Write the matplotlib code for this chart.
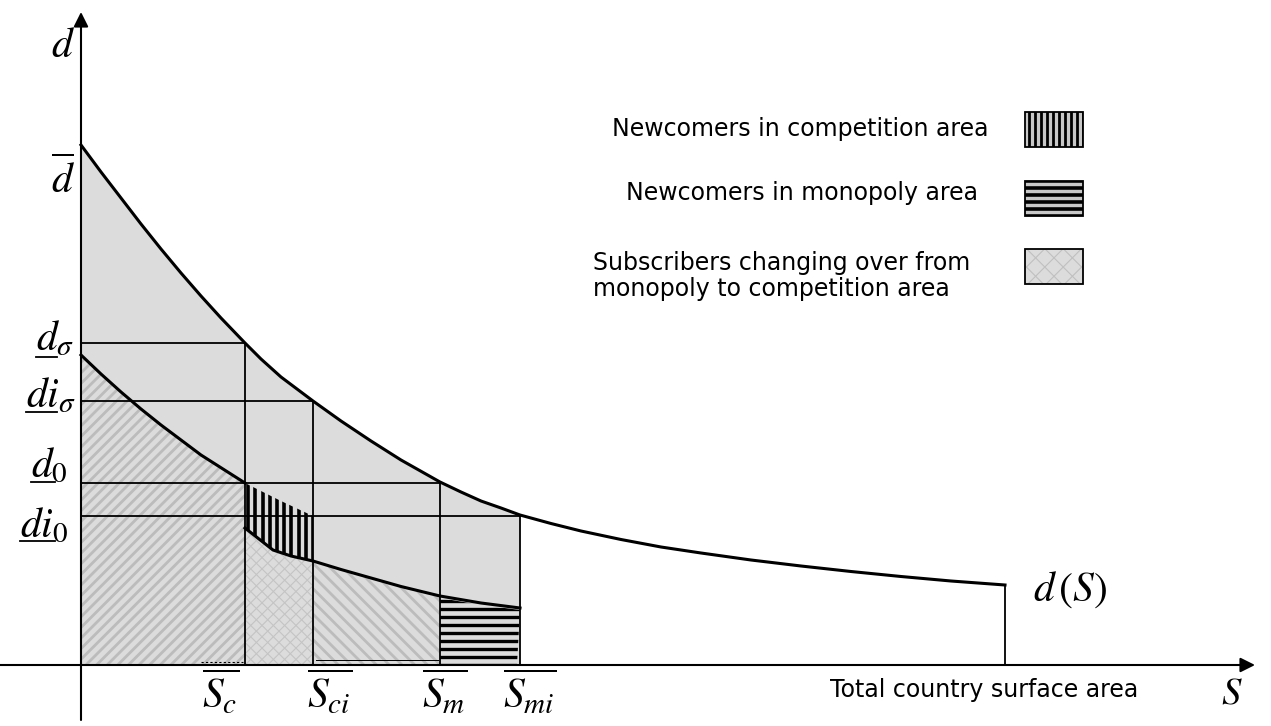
import numpy as np
import matplotlib
matplotlib.use("Agg")
import matplotlib.pyplot as plt
from matplotlib.patches import Polygon, Rectangle
from matplotlib.collections import LineCollection

plt.rcParams['mathtext.fontset'] = 'stix'

# ---- data -------------------------------------------------------------
# surface thresholds (S axis)
S_c, S_ci, S_m, S_mi, S_total = 1.64, 2.32, 3.59, 4.39, 9.24
# density thresholds (d axis)
d_sigma, di_sigma, d_0, di_0 = 3.22, 2.64, 1.82, 1.49

# density curve d(S)
upper_S = [0.00, 0.20, 0.40, 0.60, 0.80, 1.00, 1.20, 1.40, 1.64, 1.80,
           2.00, 2.16, 2.32, 2.60, 2.90, 3.20, 3.59, 3.80, 4.00, 4.20,
           4.39, 4.70, 5.00, 5.40, 5.80, 6.20, 6.70, 7.20, 7.70, 8.20,
           8.70, 9.24]
upper_d = [5.20, 4.93, 4.67, 4.41, 4.16, 3.92, 3.69, 3.47, 3.22, 3.06,
           2.88, 2.76, 2.64, 2.44, 2.24, 2.05, 1.83, 1.73, 1.64, 1.57,
           1.50, 1.415, 1.34, 1.255, 1.18, 1.12, 1.05, 0.99, 0.935, 0.885,
           0.84, 0.80]

# lower curve, competition part
lowA_S = [0.00, 0.20, 0.40, 0.60, 0.80, 1.00, 1.20, 1.42, 1.64]
lowA_d = [3.10, 2.91, 2.73, 2.56, 2.40, 2.25, 2.10, 1.96, 1.82]
# lower curve, after newcomers
lowB_S = [1.64, 1.78, 1.92, 2.10, 2.32, 2.60, 2.90, 3.20, 3.59, 4.00, 4.39]
lowB_d = [1.37, 1.26, 1.15, 1.09, 1.04, 0.955, 0.87, 0.785, 0.69, 0.62, 0.57]
# top edge of newcomer band in competition area
band_top_S = [1.64, 2.00, 2.32]
band_top_d = [1.82, 1.64, 1.49]

y_tick_labels = [r'$\overline{d}$', r'$d_\sigma$', r'$di_\sigma$', r'$d_0$', r'$di_0$']
x_tick_labels = [r'$\overline{S_c}$', r'$\overline{S_{ci}}$', r'$\overline{S_m}$', r'$\overline{S_{mi}}$']
legend_labels = ['Newcomers in competition area',
                 'Newcomers in monopoly area',
                 'Subscribers changing over from\nmonopoly to competition area']

# ---- figure -----------------------------------------------------------
W, H = 1271, 726
fig = plt.figure(figsize=(W / 100, H / 100), dpi=100)
ax = fig.add_axes([0, 0, 1, 1])
ax.set_xlim(-0.81, (W - 81) / 100)
ax.set_ylim(-(H - 665) / 100, 6.65)
ax.axis('off')

GRAY = '#dcdcdc'


def hatch(poly, angle, spacing, color, lw, z):
    """Fill a polygon with parallel lines clipped to it."""
    poly = np.asarray(poly, float)
    patch = Polygon(poly, closed=True, facecolor='none', edgecolor='none')
    ax.add_patch(patch)
    a = np.deg2rad(angle)
    d = np.array([np.cos(a), np.sin(a)])
    n = np.array([-np.sin(a), np.cos(a)])
    c0 = poly.mean(axis=0)
    proj = (poly - c0) @ n
    L = np.ptp(poly, axis=0).sum() + 1
    segs = []
    for off in np.arange(proj.min() - spacing, proj.max() + spacing, spacing):
        p = c0 + off * n
        segs.append([p - L * d, p + L * d])
    lc = LineCollection(segs, colors=color, linewidths=lw, zorder=z)
    lc.set_clip_path(patch)
    ax.add_collection(lc)


def sub(xs, ys, lo, hi):
    return [(x, y) for x, y in zip(xs, ys) if lo - 1e-9 <= x <= hi + 1e-9]


upper_S_a = np.array(upper_S)
upper_d_a = np.array(upper_d)
mask = upper_S_a <= S_mi + 1e-9

# grey area under d(S) up to S_mi
ax.fill_between(upper_S_a[mask], 0, upper_d_a[mask], color=GRAY, lw=0, zorder=1)

# competition area (existing subscribers): "/" hatch
poly1 = [(0, 0)] + list(zip(lowA_S, lowA_d)) + [(S_c, 0)]
hatch(poly1, 45, 0.075, '#bcbcbc', 2.0, 2)

# subscribers changing over: cross hatch
poly2 = [(S_c, 0)] + sub(lowB_S, lowB_d, S_c, S_ci) + [(S_ci, 0)]
hatch(poly2, 45, 0.08, '#c4c4c4', 0.8, 2)
hatch(poly2, -45, 0.08, '#c4c4c4', 0.8, 2)

# monopoly area (existing subscribers): "\" hatch
poly3 = [(S_ci, 0)] + sub(lowB_S, lowB_d, S_ci, S_m) + [(S_m, 0)]
hatch(poly3, -45, 0.09, '#bcbcbc', 2.0, 2)

# newcomers in monopoly area: horizontal black stripes
poly4 = ([(S_m, 0)] + [(x, y - 0.02) for x, y in sub(lowB_S, lowB_d, S_m, S_mi)]
         + [(S_mi - 0.03, 0)])
hatch(poly4, 0, 0.08, 'black', 2.4, 3)

# newcomers in competition area: vertical black stripes
poly5 = list(zip(band_top_S, band_top_d)) + sub(lowB_S, lowB_d, S_c, S_ci)[::-1]
hatch(poly5, 90, 0.072, 'black', 2.6, 3)

# faint bottom traces
ax.plot([1.20, S_c - 0.02], [0.03, 0.03], color='black', lw=0.8, ls=(0, (2, 2)), zorder=3)
ax.plot([S_ci + 0.03, S_m - 0.02], [0.05, 0.05], color='black', lw=0.7, zorder=3)

# reference grid lines
glw = 1.3
for yv, xe in [(d_sigma, S_c), (di_sigma, S_ci), (d_0, S_m), (di_0, S_mi)]:
    ax.plot([0, xe], [yv, yv], color='black', lw=glw, zorder=4)
for xv, ye in [(S_c, d_sigma), (S_ci, di_sigma), (S_m, d_0), (S_mi, di_0), (S_total, upper_d[-1])]:
    ax.plot([xv, xv], [0, ye], color='black', lw=glw, zorder=4)

# curves
ax.plot(upper_S, upper_d, color='black', lw=2.2, zorder=5, solid_joinstyle='round')
ax.plot(lowA_S, lowA_d, color='black', lw=2.2, zorder=5, solid_joinstyle='round')
ax.plot(lowB_S, lowB_d, color='black', lw=2.2, zorder=5, solid_joinstyle='round')

# axes with arrows
arrow = dict(arrowstyle='-|>', color='black', lw=1.5, mutation_scale=22,
             shrinkA=0, shrinkB=0)
ax.annotate('', xy=(11.74, 0), xytext=(-0.81, 0), arrowprops=arrow, zorder=6)
ax.annotate('', xy=(0, 6.53), xytext=(0, -0.55), arrowprops=arrow, zorder=6)


def px(x, y):
    return (x - 81) / 100, (665 - y) / 100


FS = 30
# axis names
ax.text(*px(51, 57), r'$d$', fontsize=FS, ha='left', va='baseline')
ax.text(*px(1221, 703), r'$S$', fontsize=28, ha='left', va='baseline')
ax.text(*px(1033, 601), r'$d\,(S)$', fontsize=30, ha='left', va='baseline')
ax.text(*px(830, 697), 'Total country surface area', fontsize=17,
        family='DejaVu Sans', ha='left', va='baseline')

# y labels
ax.text(*px(51, 193), y_tick_labels[0], fontsize=FS, ha='left', va='baseline')
ylab = [(y_tick_labels[1], 36, 350, 357, 36, 57),
        (y_tick_labels[2], 26, 407, 412, 26, 57),
        (y_tick_labels[3], 31, 477, 482, 31, 55),
        (y_tick_labels[4], 20, 537, 541, 20, 55)]
for lab, x0, yb, yu, u0, u1 in ylab:
    ax.text(*px(x0, yb), lab, fontsize=FS, ha='left', va='baseline')
    ax.plot([px(u0, 0)[0], px(u1, 0)[0]], [px(0, yu)[1]] * 2, color='black', lw=1.3)

# x labels
for lab, xc in zip(x_tick_labels, [221, 330, 445, 530]):
    ax.text(*px(xc, 708), lab, fontsize=FS, ha='center', va='baseline')

# legend
boxes = [(1025, 112), (1025, 181), (1025, 249)]
bw, bh = 58, 35
for i, (bx, by) in enumerate(boxes):
    x0, y1 = px(bx, by)
    _, y0 = px(bx, by + bh)
    rect = [(x0, y0), (x0 + bw / 100, y0), (x0 + bw / 100, y1), (x0, y1)]
    face = '#c8c8c8' if i < 2 else GRAY
    ax.add_patch(Rectangle((x0, y0), bw / 100, bh / 100, facecolor=face,
                           edgecolor='none', zorder=2))
    if i == 0:
        hatch(rect, 90, 0.06, 'black', 2.0, 3)
    elif i == 1:
        hatch(rect, 0, 0.07, 'black', 2.6, 3)
    else:
        hatch(rect, 45, 0.13, '#c0c0c0', 0.8, 3)
        hatch(rect, -45, 0.13, '#c0c0c0', 0.8, 3)
    ax.add_patch(Rectangle((x0, y0), bw / 100, bh / 100, facecolor='none',
                           edgecolor='black', lw=1.3, zorder=4))

LFS = 17
ax.text(*px(988, 136), legend_labels[0], fontsize=LFS, family='DejaVu Sans',
        ha='right', va='baseline')
ax.text(*px(978, 200), legend_labels[1], fontsize=LFS, family='DejaVu Sans',
        ha='right', va='baseline')
ax.text(*px(593, 276), legend_labels[2], fontsize=LFS, family='DejaVu Sans',
        ha='left', va='center', linespacing=1.15)

fig.savefig('out.png', dpi=100)
